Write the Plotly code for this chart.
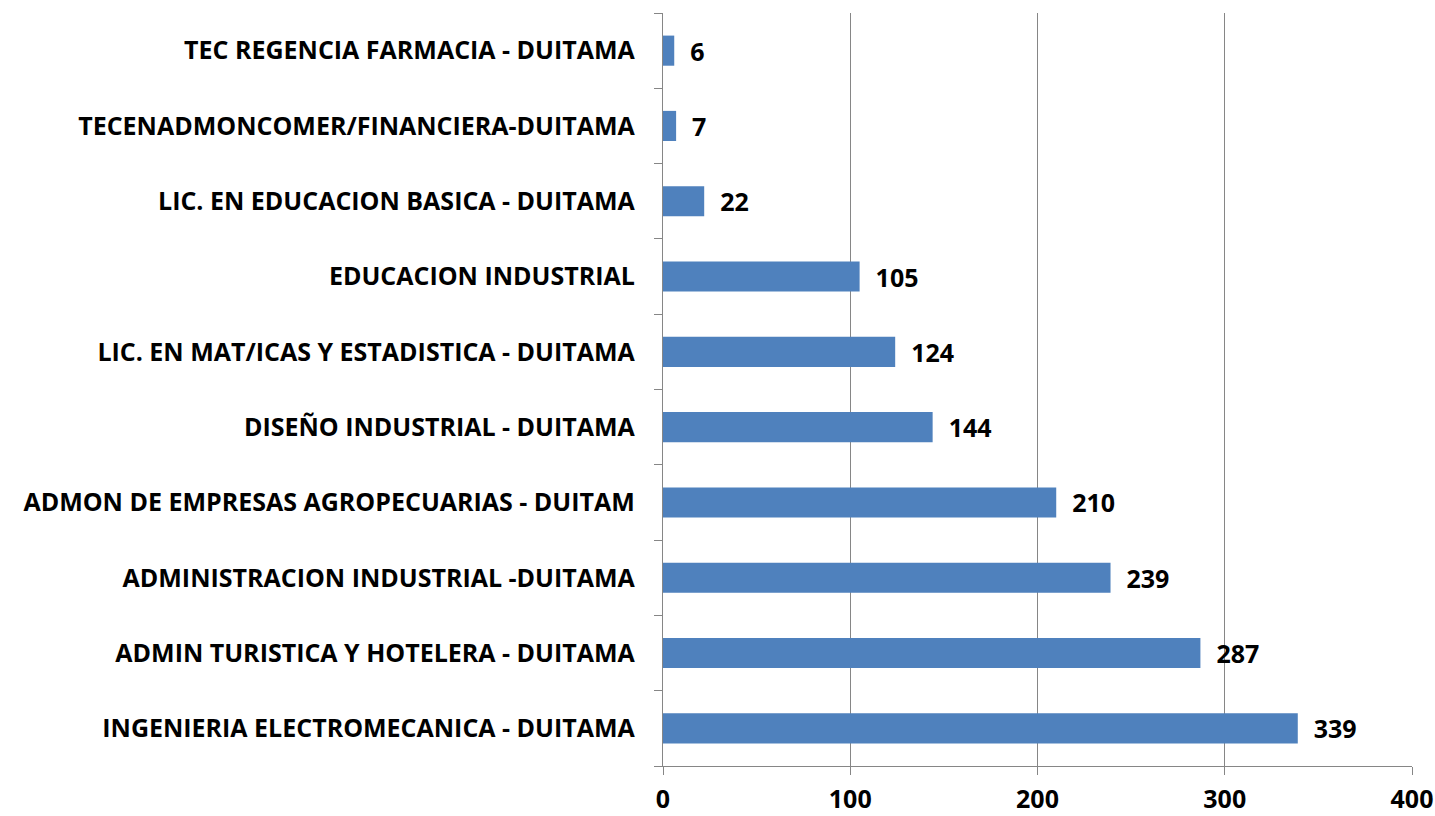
import plotly.graph_objects as go

categories = [
    "INGENIERIA ELECTROMECANICA - DUITAMA",
    "ADMIN TURISTICA Y HOTELERA - DUITAMA",
    "ADMINISTRACION INDUSTRIAL -DUITAMA",
    "ADMON DE EMPRESAS AGROPECUARIAS - DUITAM",
    "DISEÑO INDUSTRIAL - DUITAMA",
    "LIC. EN MAT/ICAS Y ESTADISTICA - DUITAMA",
    "EDUCACION INDUSTRIAL",
    "LIC. EN EDUCACION BASICA - DUITAMA",
    "TECENADMONCOMER/FINANCIERA-DUITAMA",
    "TEC REGENCIA FARMACIA - DUITAMA",
]
values = [339, 287, 239, 210, 144, 124, 105, 22, 7, 6]
x_ticks = [0, 100, 200, 300, 400]

font_family = "Open Sans"

fig = go.Figure(
    go.Bar(
        y=categories,
        x=values,
        orientation="h",
        marker=dict(color="#4F81BD", line=dict(width=0)),
        text=["  " + str(v) for v in values],
        textposition="outside",
        constraintext="none",
        cliponaxis=False,
        textfont=dict(family=font_family, size=25, color="#000000", weight="bold"),
    )
)

fig.update_layout(
    width=1435,
    height=816,
    margin=dict(l=663, r=23, t=13, b=50),
    paper_bgcolor="white",
    plot_bgcolor="white",
    bargap=0.6,
    showlegend=False,
    font=dict(family=font_family, color="#000000"),
)

fig.update_xaxes(
    range=[0, 400],
    tickvals=x_ticks,
    ticktext=[str(t) for t in x_ticks],
    showgrid=True,
    gridcolor="#868686",
    gridwidth=1.3,
    showline=True,
    linecolor="#868686",
    linewidth=1.3,
    ticks="outside",
    ticklen=8,
    tickcolor="#868686",
    tickwidth=1.3,
    ticklabelstandoff=3,
    tickfont=dict(family=font_family, size=25, color="#000000", weight="bold"),
    zeroline=False,
    automargin=False,
)

fig.update_yaxes(
    categoryorder="array",
    categoryarray=categories,
    showline=True,
    linecolor="#868686",
    linewidth=1.3,
    ticks="outside",
    tickson="boundaries",
    ticklen=8,
    tickcolor="#868686",
    tickwidth=1.3,
    ticklabelstandoff=22,
    tickfont=dict(family=font_family, size=25, color="#000000", weight="bold"),
    showgrid=False,
    automargin=False,
)

fig.write_html(
    "out.html",
    config={"displayModeBar": False},
    post_script="document.body.style.margin='0px'; document.body.style.overflow='hidden';",
)
